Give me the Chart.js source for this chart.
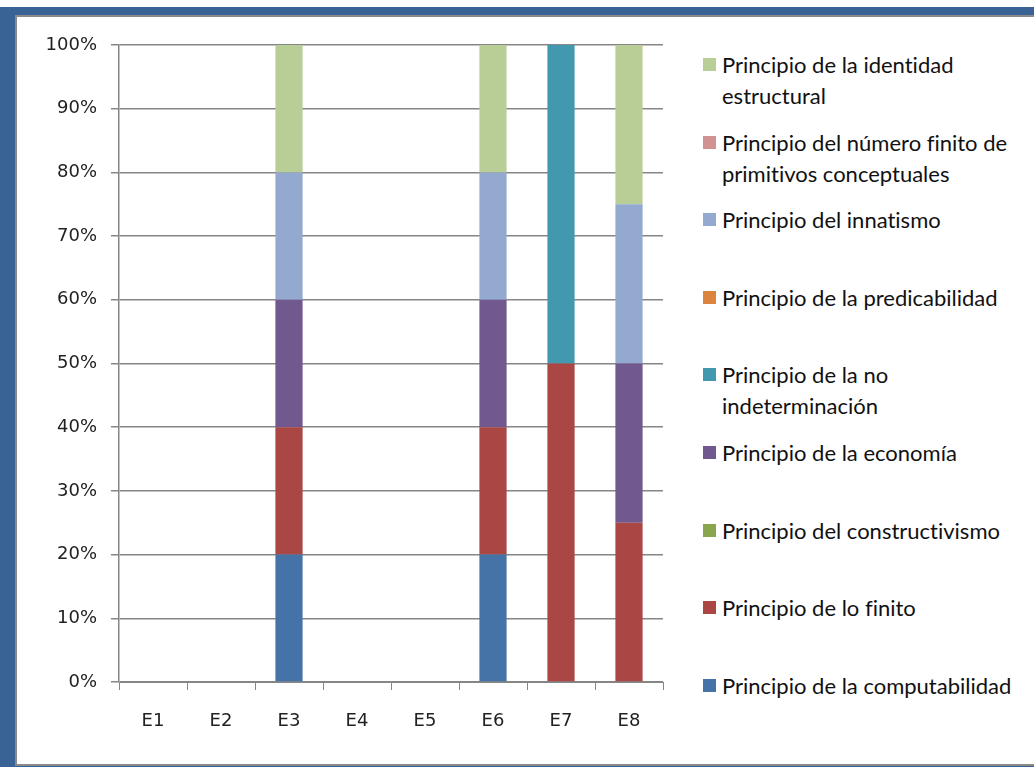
<!DOCTYPE html>
<html>
<head>
<meta charset="utf-8">
<script src="https://cdn.jsdelivr.net/npm/chart.js@4.4.0/dist/chart.umd.min.js"></script>
<style>
    body { margin: 0; background: #fff; width: 1034px; height: 767px; overflow: hidden; position: relative; }
    #frameOuter { position: absolute; left: 0; top: 7px; width: 1060px; height: 760px; background: #3a6395; }
    #frameInner { position: absolute; left: 15px; top: 15px; width: 1040px; height: 751px; box-sizing: border-box;
                  border: 2px solid #8a8a8a; background: #fff; }
    #chartCanvas { position: absolute; left: 0; top: 0; }
    #legendBox { position: absolute; left: 703px; top: 0; width: 331px; height: 767px;
                 font-family: Lato, "Open Sans", sans-serif; font-size: 22px; color: #111;
                 font-variant-ligatures: none; }
    .legend-item { position: absolute; left: 0; width: 325px; }
    .legend-swatch { position: absolute; left: 0; top: 0; width: 13px; height: 13px; }
    .legend-text { position: absolute; left: 19px; top: -9px; line-height: 31px; width: 310px; white-space: nowrap; }
</style>
</head>
<body>
<div id="frameOuter"></div>
<div id="frameInner"></div>
<canvas id="chartCanvas" width="680" height="767"></canvas>
<div id="legendBox"></div>

<script>
// categories
var categories = ['E1', 'E2', 'E3', 'E4', 'E5', 'E6', 'E7', 'E8'];

// series values (percent of each column), bottom of the stack first
var computabilidad = [0, 0, 20, 0, 0, 20, 0, 0];
var loFinito = [0, 0, 20, 0, 0, 20, 50, 25];
var constructivismo = [0, 0, 0, 0, 0, 0, 0, 0];
var economia = [0, 0, 20, 0, 0, 20, 0, 25];
var noIndeterminacion = [0, 0, 0, 0, 0, 0, 50, 0];
var predicabilidad = [0, 0, 0, 0, 0, 0, 0, 0];
var innatismo = [0, 0, 20, 0, 0, 20, 0, 25];
var numeroFinito = [0, 0, 0, 0, 0, 0, 0, 0];
var identidad = [0, 0, 20, 0, 0, 20, 0, 25];

// legend labels, split where the reference wraps them
var seriesLabels = [
    ['Principio de la computabilidad'],
    ['Principio de lo finito'],
    ['Principio del constructivismo'],
    ['Principio de la economía'],
    ['Principio de la no', 'indeterminación'],
    ['Principio de la predicabilidad'],
    ['Principio del innatismo'],
    ['Principio del número finito de', 'primitivos conceptuales'],
    ['Principio de la identidad', 'estructural']
];
var seriesValues = [computabilidad, loFinito, constructivismo, economia, noIndeterminacion,
                    predicabilidad, innatismo, numeroFinito, identidad];
var seriesColors = ['#4572A7', '#AA4643', '#89A54E', '#71588F', '#4198AF',
                    '#DB843D', '#93A9CF', '#D19392', '#B9CD96'];

// y tick labels
var yTicks = [0, 10, 20, 30, 40, 50, 60, 70, 80, 90, 100];

var axisColor = '#868686';
var axisFont = { family: 'DejaVu Sans', size: 18 };

function buildDatasets() {
    var datasets = [];
    for (var i = 0; i < seriesValues.length; i++) {
        datasets.push({
            label: seriesLabels[i].join(' '),
            data: seriesValues[i],
            backgroundColor: seriesColors[i],
            borderWidth: 0,
            barPercentage: 0.4,
            categoryPercentage: 1.0
        });
    }
    return datasets;
}

function buildLegend(chart) {
    //legend is listed top-down in reverse stack order, like the original
    var box = document.getElementById('legendBox');
    var sets = chart.data.datasets;
    var slot = 77.6;
    for (var n = 0; n < sets.length; n++) {
        var i = sets.length - 1 - n;
        var item = document.createElement('div');
        item.className = 'legend-item';
        item.style.top = (58 + n * slot) + 'px';
        var sw = document.createElement('div');
        sw.className = 'legend-swatch';
        sw.style.background = sets[i].backgroundColor;
        var txt = document.createElement('div');
        txt.className = 'legend-text';
        txt.innerHTML = seriesLabels[i].join('<br>');
        item.appendChild(sw);
        item.appendChild(txt);
        box.appendChild(item);
    }
}

var ctx = document.getElementById('chartCanvas').getContext('2d');
var chart = new Chart(ctx, {
    type: 'bar',
    data: {
        labels: categories,
        datasets: buildDatasets()
    },
    options: {
        responsive: false,
        animation: false,
        layout: { padding: { top: 45, right: 17, left: 0, bottom: 0 } },
        plugins: {
            legend: { display: false },
            tooltip: { enabled: false }
        },
        scales: {
            x: {
                stacked: true,
                grid: { offset: true, drawOnChartArea: false, tickLength: 8, color: axisColor, lineWidth: 1 },
                border: { color: axisColor, width: 1 },
                ticks: { font: axisFont, color: '#222', padding: 21, maxRotation: 0 },
                afterFit: function (scale) { scale.height = 85; }
            },
            y: {
                stacked: true,
                min: yTicks[0],
                max: yTicks[yTicks.length - 1],
                afterBuildTicks: function (scale) {
                    scale.ticks = yTicks.map(function (v) { return { value: v }; });
                },
                grid: { color: axisColor, lineWidth: 1.5, tickLength: 8 },
                border: { color: axisColor, width: 1.5 },
                ticks: {
                    font: axisFont, color: '#222', padding: 14,
                    callback: function (v) { return v + '%'; }
                },
                afterFit: function (scale) { scale.width = 119; }
            }
        }
    }
});

buildLegend(chart);
</script>
</body>
</html>
